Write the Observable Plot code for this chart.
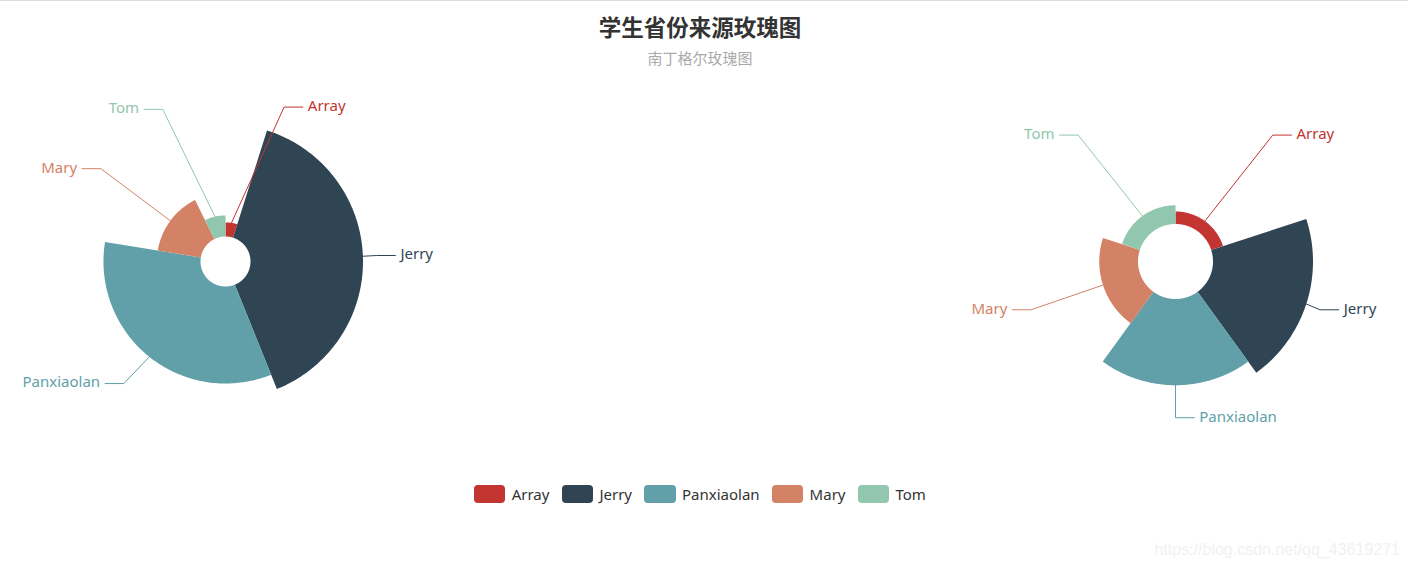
<!DOCTYPE html>
<html><head><meta charset="utf-8">
<script src="https://cdn.jsdelivr.net/npm/d3@7"></script>
<script src="https://cdn.jsdelivr.net/npm/@observablehq/plot@0.6"></script>
<style>
html,body{margin:0;padding:0;background:#fff;}
body{font-family:"Noto Sans","Noto Sans CJK SC",sans-serif;}
#wrap{position:relative;width:1408px;height:571px;overflow:hidden;}
#topline{position:absolute;left:0;top:0;width:1408px;height:1px;background:#dcdcdc;}
#title{position:absolute;left:0;top:11px;width:1400px;text-align:center;font-size:22.5px;font-weight:bold;color:#333;line-height:30px;font-family:"Noto Sans CJK SC",sans-serif;}
#subtitle{position:absolute;left:0;top:48px;width:1400px;text-align:center;font-size:15px;color:#aaa;line-height:20px;font-family:"Noto Sans CJK SC",sans-serif;}
#chart{position:absolute;left:0;top:80px;}
#legend{position:absolute;left:0;top:484px;width:1400px;display:flex;justify-content:center;align-items:center;height:20px;}
.li{display:flex;align-items:center;margin:0 6.25px;font-size:15px;color:#333;}
.sw{width:31.25px;height:17.5px;border-radius:4px;margin-right:6.25px;}
#wm{position:absolute;right:8px;top:541px;font-family:"Liberation Sans",Arial,sans-serif;font-size:16px;color:#f1f1f1;}
</style></head><body>
<div id="wrap">
  <div id="topline"></div>
  <div id="title">学生省份来源玫瑰图</div>
  <div id="subtitle">南丁格尔玫瑰图</div>
  <div id="chart"></div>
  <div id="legend"></div>
  <div id="wm">https://blog.csdn.net/qq_43619271</div>
</div>
<script>
// ---- data ----
const names = ["Array", "Jerry", "Panxiaolan", "Mary", "Tom"];
const values = [10, 80, 69, 31, 15];
const colors = ["#c23531", "#2f4554", "#61a0a8", "#d48265", "#91c7ae"];
const roseTypes = ["radius", "area"];

// ---- layout (ECharts-like rose pie) ----
const W = 1408, H = 380, TOP = 80;
const pies = [
  {cx: 225, cy: 261, r0: 25, r: 137.5},
  {cx: 1175, cy: 261, r0: 37.5, r: 137.5}
];
const len1 = 18.75, len2 = 18.75, gap = 5;
const total = d3.sum(values), vmax = d3.max(values);
const DEG = Math.PI / 180;

const slices = [], lines = [], labels = [];
roseTypes.forEach((type, si) => {
  const P = pies[si];
  let a = 0;
  const items = names.map((n, i) => {
    const span = type === "radius" ? values[i] / total * 2 * Math.PI : 2 * Math.PI / names.length;
    const rr = P.r0 + (P.r - P.r0) * values[i] / vmax;
    const it = {name: n, a0: a, a1: a + span, rr};
    a += span;
    return it;
  });
  const labs = [];
  items.forEach(it => {
    const key = si + "-" + it.name;
    const steps = Math.max(2, Math.ceil((it.a1 - it.a0) / DEG));
    for (let k = 0; k <= steps; k++) {
      const t = it.a0 + (it.a1 - it.a0) * k / steps;
      slices.push({key, name: it.name, x: P.cx + it.rr * Math.sin(t), y: P.cy - it.rr * Math.cos(t)});
    }
    for (let k = steps; k >= 0; k--) {
      const t = it.a0 + (it.a1 - it.a0) * k / steps;
      slices.push({key, name: it.name, x: P.cx + P.r0 * Math.sin(t), y: P.cy - P.r0 * Math.cos(t)});
    }
    const m = (it.a0 + it.a1) / 2, s = Math.sin(m), c = Math.cos(m);
    const dir = s > -1e-9 ? 1 : -1;
    const x1 = P.cx + it.rr * s, y1 = P.cy - it.rr * c;
    const x2 = P.cx + (P.r + len1) * s, y2 = P.cy - (P.r + len1) * c;
    const x3 = x2 + dir * len2;
    labs.push({key, name: it.name, dir, x1, y1, y: y2, x: x3 + dir * gap});
  });
  [1, -1].forEach(dir => {
    const side = labs.filter(l => l.dir === dir).sort((p, q) => p.y - q.y);
    const up = side.filter(l => l.y < P.cy), down = side.filter(l => l.y >= P.cy);
    [[up, false], [down, true]].forEach(([list, isDown]) => {
      let last = isDown ? Number.MAX_VALUE : 0;
      list.forEach(l => {
        const dy = Math.abs(l.y - P.cy);
        let dx = dy < P.r + len1 - 1e-6
          ? Math.sqrt((P.r + len1 + len2) ** 2 - dy * dy)
          : Math.abs(l.x - P.cx);
        if (isDown && dx >= last) dx = last - 10;
        if (!isDown && dx <= last) dx = last + 10;
        l.x = P.cx + dx * dir;
        last = dx;
      });
    });
  });
  labs.forEach(l => {
    const xe = l.x - l.dir * gap, xm = xe - l.dir * len2;
    lines.push({key: l.key, name: l.name, x: l.x1, y: l.y1});
    lines.push({key: l.key, name: l.name, x: xm, y: l.y});
    lines.push({key: l.key, name: l.name, x: xe, y: l.y});
    labels.push({name: l.name, x: l.x, y: l.y, side: l.dir > 0 ? "start" : "end"});
  });
});

const chart = Plot.plot({
  width: W, height: H, margin: 0,
  x: {domain: [0, W], range: [0, W], axis: null},
  y: {domain: [TOP, TOP + H], range: [0, H], axis: null},
  color: {domain: names, range: colors},
  style: {fontFamily: '"Noto Sans","Noto Sans CJK SC",sans-serif', background: "transparent", overflow: "visible"},
  marks: [
    Plot.line(slices, {x: "x", y: "y", z: "key", fill: "name", stroke: null, curve: "linear-closed"}),
    Plot.line(lines, {x: "x", y: "y", z: "key", stroke: "name", strokeWidth: 1, curve: "linear"}),
    Plot.text(labels.filter(d => d.side === "start"), {x: "x", y: "y", text: "name", fill: "name", fontSize: 15, textAnchor: "start", dy: -1}),
    Plot.text(labels.filter(d => d.side === "end"), {x: "x", y: "y", text: "name", fill: "name", fontSize: 15, textAnchor: "end", dy: -1})
  ]
});
document.getElementById("chart").appendChild(chart);

// legend
const lg = document.getElementById("legend");
names.forEach((n, i) => {
  const el = document.createElement("div");
  el.className = "li";
  el.innerHTML = `<span class="sw" style="background:${colors[i]}"></span><span>${n}</span>`;
  lg.appendChild(el);
});
</script>
</body></html>
